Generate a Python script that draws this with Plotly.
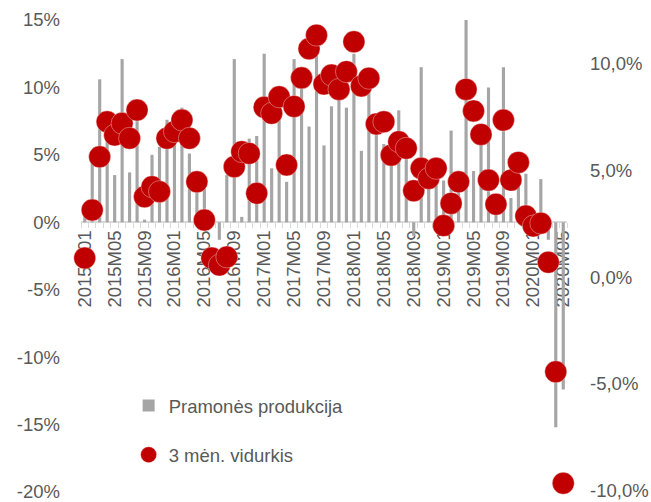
import plotly.graph_objects as go

# Monthly periods 2015M01 .. 2020M05
years = [2015, 2016, 2017, 2018, 2019, 2020]
periods = [f"{y}M{m:02d}" for y in years for m in range(1, 13)][:65]

# Industrial production, annual change, % (left axis)
production = [
    0.8, 4.4, 10.6, 7.0, 3.5, 12.1, 3.7, 7.8, 0.2, 5.0,
    5.6, 7.6, 6.8, 8.5, 5.1, 3.0, 2.5, 0.5, -1.3, 3.5,
    12.1, 0.4, 6.2, 6.4, 12.5, 4.0, 8.5, 3.0, 12.1, 10.5,
    7.1, 13.5, 5.7, 8.6, 9.5, 8.5, 12.5, 5.3, 10.0, 7.5,
    5.8, 4.5, 8.3, 5.0, -1.0, 11.5, 3.5, 4.5, 3.1, 6.8,
    3.0, 15.0, 3.8, 6.0, 10.0, 1.0, 11.5, 1.8, 4.0, 3.6,
    0.5, 3.2, -1.3, -15.2, -12.4,
]

# Three-month average, % (right axis)
avg3 = [
    0.89, 3.14, 5.63, 7.27, 6.65, 7.20, 6.50, 7.82, 3.76, 4.23,
    4.00, 6.50, 6.81, 7.35, 6.50, 4.46, 2.67, 0.89, 0.56, 0.94,
    5.17, 5.87, 5.79, 3.92, 7.95, 7.67, 8.44, 5.25, 7.99, 9.33,
    10.69, 11.33, 9.04, 9.46, 8.79, 9.62, 11.02, 8.95, 9.31, 7.17,
    7.27, 5.71, 6.34, 6.03, 4.04, 5.09, 4.62, 5.09, 2.41, 3.45,
    4.46, 8.79, 7.78, 6.68, 4.54, 3.41, 7.35, 4.54, 5.37, 2.86,
    2.39, 2.52, 0.69, -4.44, -9.66,
]

left_ticks = [-20, -15, -10, -5, 0, 5, 10, 15]
left_labels = ["-20%", "-15%", "-10%", "-5%", "0%", "5%", "10%", "15%"]
right_ticks = [-10, -5, 0, 5, 10]
right_labels = ["-10,0%", "-5,0%", "0,0%", "5,0%", "10,0%"]

LEFT_RANGE = [-20, 15]
RIGHT_RANGE = [-10.07, 12.04]

idx = list(range(len(periods)))
label_idx = idx[::4]
label_text = [periods[i] for i in label_idx]

TEXT = "#595959"
FONT = "Liberation Sans, Arial, sans-serif"
FS = 18.5

fig = go.Figure()
fig.add_trace(go.Bar(
    x=idx, y=production, name="Pramonės produkcija",
    marker=dict(color="#a5a5a5", line=dict(width=0)),
    width=0.42, yaxis="y", legend="legend",
    hovertext=periods,
))
fig.add_trace(go.Scatter(
    x=idx, y=avg3, name="3 mėn. vidurkis", mode="markers",
    marker=dict(color="#c00000", size=22,
                line=dict(color="rgba(255,255,255,0.45)", width=0.8)),
    yaxis="y2", legend="legend2", cliponaxis=False,
    hovertext=periods,
))

zero_pos = (0 - LEFT_RANGE[0]) / (LEFT_RANGE[1] - LEFT_RANGE[0])

fig.update_layout(
    width=651, height=502,
    margin=dict(l=81, r=84, t=20, b=10, pad=0),
    paper_bgcolor="white", plot_bgcolor="white",
    font=dict(family=FONT, size=FS, color=TEXT),
    bargap=0.6,
    xaxis=dict(
        range=[-0.5, 64.5], anchor="free", position=zero_pos,
        showline=True, linecolor="#d9d9d9", linewidth=1.5,
        showgrid=False, zeroline=False, automargin=False,
        tickmode="array", tickvals=label_idx, ticktext=label_text,
        tickangle=-90, ticks="",
        minor=dict(ticks="outside", tick0=-0.5, dtick=1, ticklen=5,
                   tickcolor="#d9d9d9", tickwidth=1.2, showgrid=False),
        tickfont=dict(family=FONT, size=FS, color=TEXT),
        layer="below traces",
    ),
    yaxis=dict(
        range=LEFT_RANGE, tickmode="array", tickvals=left_ticks,
        ticktext=left_labels, showgrid=False, zeroline=False,
        showline=False, ticks="", ticklabelstandoff=20, automargin=False,
        ticklabeloverflow="allow",
        tickfont=dict(family=FONT, size=FS, color=TEXT),
    ),
    yaxis2=dict(
        range=RIGHT_RANGE, overlaying="y", side="right",
        tickmode="array", tickvals=right_ticks, ticktext=right_labels,
        showgrid=False, zeroline=False, showline=False, ticks="",
        ticklabelstandoff=22, automargin=False,
        ticklabeloverflow="allow",
        tickfont=dict(family=FONT, size=FS, color=TEXT),
    ),
    legend=dict(
        x=0.098, y=0.182, xanchor="left", yanchor="middle",
        bgcolor="rgba(0,0,0,0)", borderwidth=0,
        font=dict(family=FONT, size=FS, color=TEXT),
    ),
    legend2=dict(
        x=0.098, y=0.078, xanchor="left", yanchor="middle",
        bgcolor="rgba(0,0,0,0)", borderwidth=0,
        font=dict(family=FONT, size=FS, color=TEXT),
    ),
    showlegend=True,
)

fig.write_html("out.html")
